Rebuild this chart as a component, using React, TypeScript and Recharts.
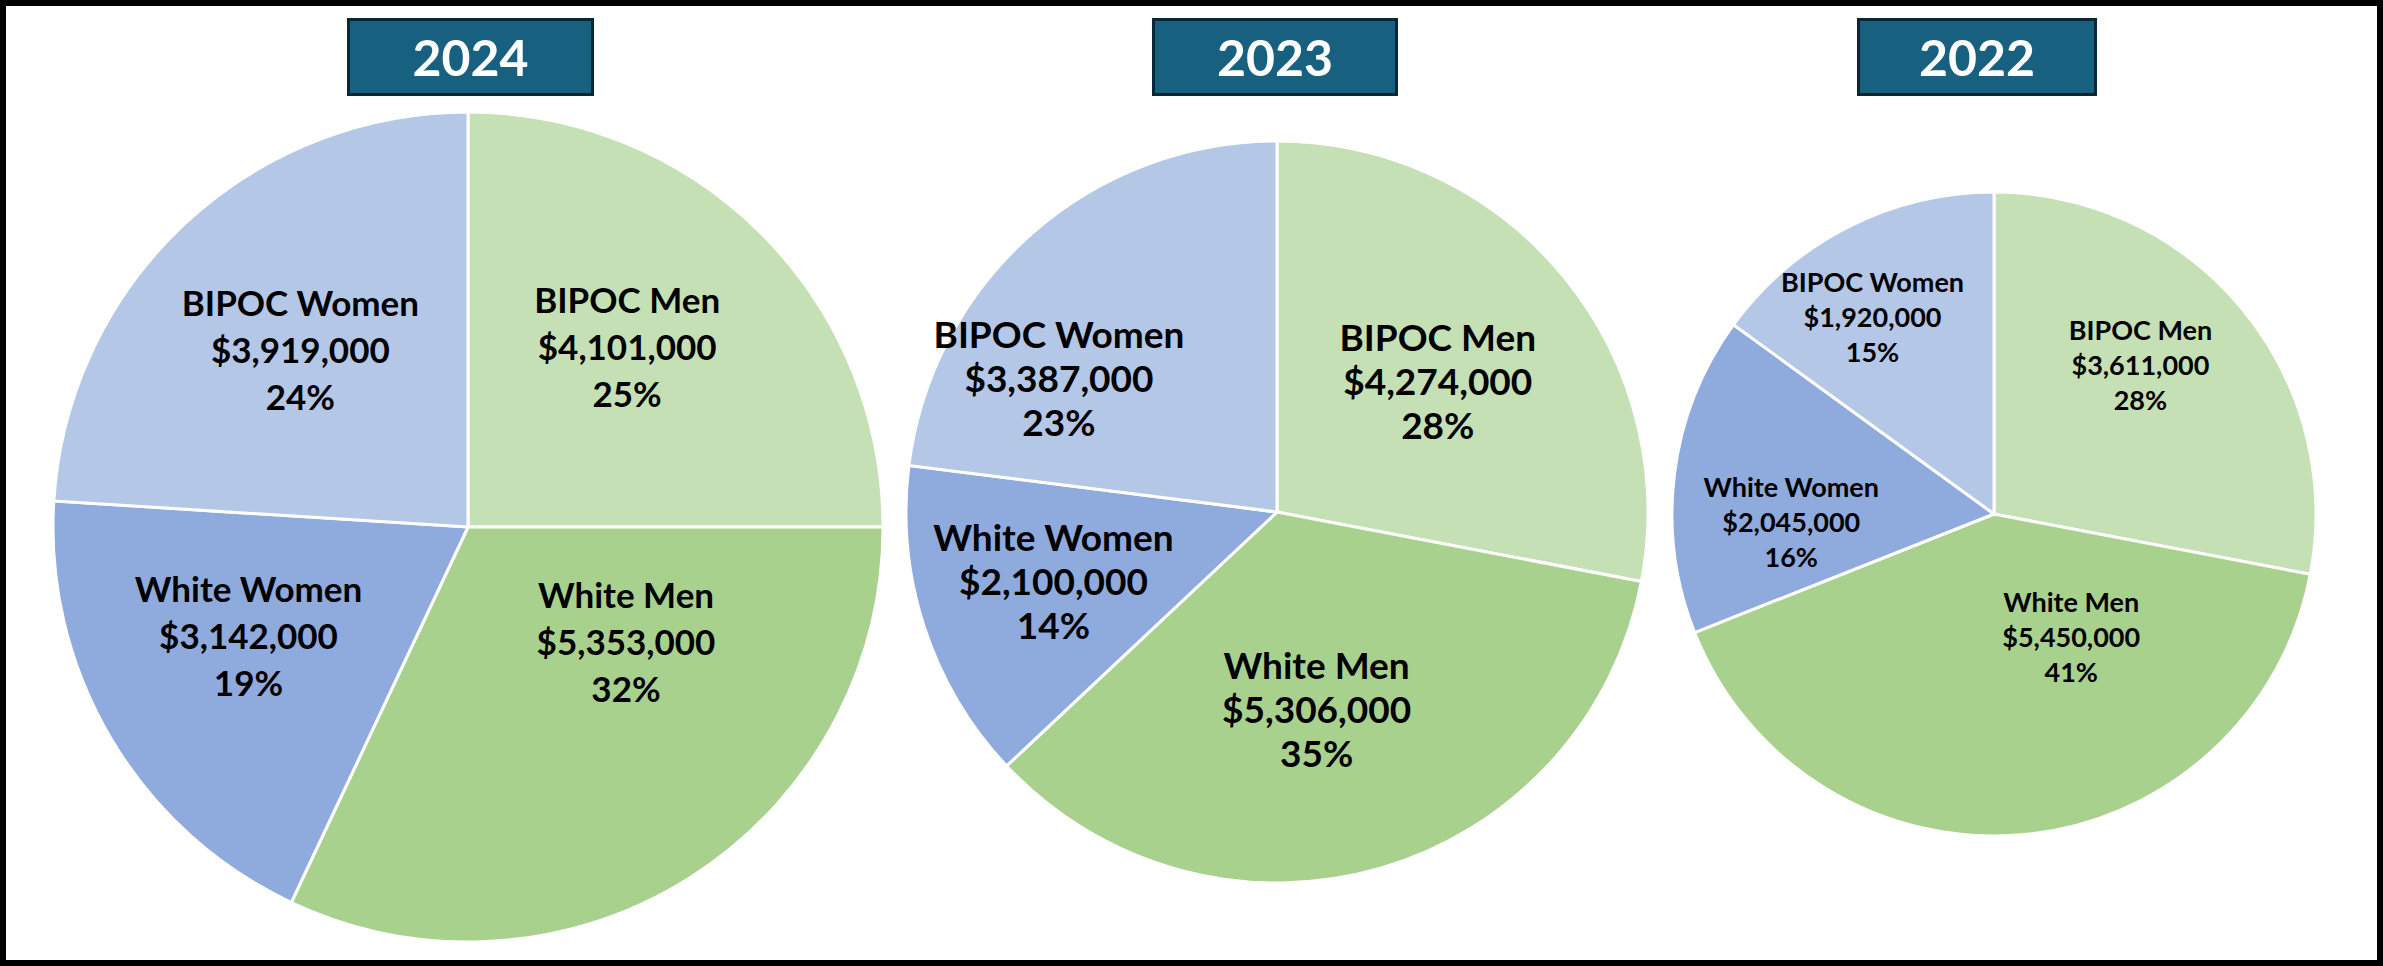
import { Cell, Pie, PieChart } from "recharts";

const categories = ["BIPOC Men", "White Men", "White Women", "BIPOC Women"];
const colors = ["#C5E0B4", "#A9D18E", "#8FAADC", "#B4C7E7"];

const amounts2024 = [4101000, 5353000, 3142000, 3919000];
const amounts2023 = [4274000, 5306000, 2100000, 3387000];
const amounts2022 = [3611000, 5450000, 2045000, 1920000];

// slice sizes (percent of each year's total)
const pct2024 = [25, 32, 19, 24];
const pct2023 = [28, 35, 14, 23];
const pct2022 = [28, 41, 16, 15];

const W = 2383;
const H = 966;
const RADIAN = Math.PI / 180;

// label placement: [fraction of radius, angle shift from slice middle]
const pies = [
  {
    year: "2024",
    amounts: amounts2024,
    pct: pct2024,
    cx: 468,
    cy: 527,
    r: 415,
    font: 35,
    lh: 47,
    place: [[0.58, 3.6], [0.47, 21.7], [0.59, -4.3], [0.59, 0]],
    box: { left: 347, width: 247 },
  },
  {
    year: "2023",
    amounts: amounts2023,
    pct: pct2023,
    cx: 1277,
    cy: 512,
    r: 371,
    font: 37,
    lh: 44,
    place: [[0.56, -0.3], [0.54, -4.8], [0.63, -1], [0.69, 17]],
    box: { left: 1152, width: 246 },
  },
  {
    year: "2022",
    amounts: amounts2022,
    pct: pct2022,
    cx: 1994,
    cy: 514,
    r: 322,
    font: 27,
    lh: 35,
    place: [[0.65, 6], [0.45, 26.8], [0.63, 9.2], [0.72, 4.6]],
    box: { left: 1857, width: 240 },
  },
];

const money = (v: number) => "$" + v.toLocaleString("en-US");

function makeLabel(p: (typeof pies)[number]) {
  return (props: any) => {
    const { cx, cy, midAngle, outerRadius, index } = props;
    const [f, shift] = p.place[index];
    const a = (midAngle + shift) * RADIAN;
    const x = cx + outerRadius * f * Math.cos(a);
    const y = cy - outerRadius * f * Math.sin(a);
    const lines = [categories[index], money(p.amounts[index]), `${p.pct[index]}%`];
    return (
      <g key={`lbl-${p.year}-${index}`}>
        {lines.map((t, i) => (
          <text
            key={i}
            x={x}
            y={y + (i - 1) * p.lh}
            textAnchor="middle"
            dominantBaseline="central"
            fill="#000"
            fontFamily="Lato, 'Noto Sans', sans-serif"
            fontWeight={700}
            fontSize={p.font}
          >
            {t}
          </text>
        ))}
      </g>
    );
  };
}

export default function App() {
  return (
    <div style={{ position: "absolute", left: 0, top: 0, width: W, height: H, background: "#fff" }}>
      <div
        style={{
          position: "absolute",
          left: 0,
          top: 0,
          width: W,
          height: H,
          boxSizing: "border-box",
          border: "6px solid #000",
        }}
      />
      <div style={{ position: "absolute", left: 0, top: 0 }}>
        <PieChart width={W} height={H} margin={{ top: 0, right: 0, bottom: 0, left: 0 }}>
          {pies.map((p) => (
            <Pie
              key={p.year}
              data={categories.map((c, i) => ({ name: c, value: p.pct[i] }))}
              dataKey="value"
              nameKey="name"
              cx={p.cx}
              cy={p.cy}
              outerRadius={p.r}
              startAngle={90}
              endAngle={-270}
              stroke="#fff"
              strokeWidth={3}
              label={makeLabel(p)}
              labelLine={false}
              isAnimationActive={false}
            >
              {categories.map((c, i) => (
                <Cell key={c} fill={colors[i]} />
              ))}
            </Pie>
          ))}
        </PieChart>
      </div>
      {pies.map((p) => (
        <div
          key={p.year}
          style={{
            position: "absolute",
            left: p.box.left,
            top: 18,
            width: p.box.width,
            height: 78,
            boxSizing: "border-box",
            background: "#17607F",
            border: "3px solid #0a2736",
            color: "#fff",
            fontFamily: "Lato, 'Noto Sans', sans-serif",
            fontWeight: 700,
            fontSize: 50,
            display: "flex",
            alignItems: "center",
            justifyContent: "center",
          }}
        >
          {p.year}
        </div>
      ))}
    </div>
  );
}
